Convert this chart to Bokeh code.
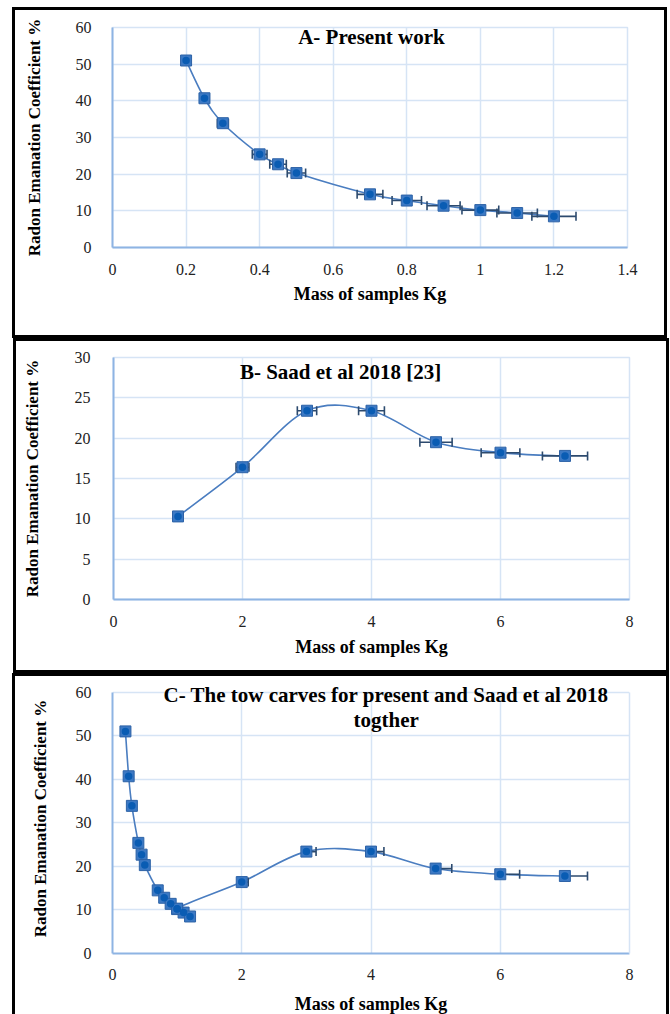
from bokeh.plotting import figure
from bokeh.layouts import column
from bokeh.models import FixedTicker, Label, LinearAxis, BoxAnnotation
from bokeh.embed import file_html
from bokeh.resources import INLINE
import math

# ---------------- data ----------------
mass_present = [0.2, 0.25, 0.3, 0.4, 0.45, 0.5, 0.7, 0.8, 0.9, 1.0, 1.1, 1.2]
rec_present = [51.0, 40.7, 33.9, 25.4, 22.7, 20.3, 14.5, 12.8, 11.4, 10.2, 9.4, 8.5]
xerr_present = [0.01, 0.0125, 0.015, 0.02, 0.0225, 0.025, 0.035, 0.04, 0.045, 0.05, 0.055, 0.06]

mass_saad = [1, 2, 3, 4, 5, 6, 7]
rec_saad = [10.3, 16.4, 23.4, 23.4, 19.5, 18.2, 17.8]
xerr_saad = [0.05, 0.1, 0.15, 0.2, 0.25, 0.3, 0.35]

xticks_a = [0, 0.2, 0.4, 0.6, 0.8, 1.0, 1.2, 1.4]
xlabels_a = ["0", "0.2", "0.4", "0.6", "0.8", "1", "1.2", "1.4"]
yticks_a = [0, 10, 20, 30, 40, 50, 60]
xticks_b = [0, 2, 4, 6, 8]
yticks_b = [0, 5, 10, 15, 20, 25, 30]

title_a = "A- Present work"
title_b = "B- Saad et al 2018 [23]"
title_c1 = "C- The tow carves for present and Saad et al 2018"
title_c2 = "togther"
xtitle = "Mass of samples Kg"
ytitle = "Radon Emanation Coefficient %"

SERIF = "Liberation Serif"
LINE = "#4A7DC0"
GRID = "#D6E4F5"
AXIS = "#8EB4E3"
ERR = "#2C4A6E"


def smooth_segments(xs, ys):
    n = len(xs)
    out = {k: [] for k in ("x0", "y0", "x1", "y1", "cx0", "cy0", "cx1", "cy1")}
    for i in range(n - 1):
        im = i - 1 if i > 0 else i
        ip = i + 2 if i + 2 < n else i + 1
        out["x0"].append(xs[i]); out["y0"].append(ys[i])
        out["x1"].append(xs[i + 1]); out["y1"].append(ys[i + 1])
        out["cx0"].append(xs[i] + (xs[i + 1] - xs[im]) / 6.0)
        out["cy0"].append(ys[i] + (ys[i + 1] - ys[im]) / 6.0)
        out["cx1"].append(xs[i + 1] - (xs[ip] - xs[i]) / 6.0)
        out["cy1"].append(ys[i + 1] - (ys[ip] - ys[i]) / 6.0)
    return out


def make_panel(width, height, borders, xr, yr, xt, yt, xlab_over, styles, margin,
               y_std, y_lab_std, x_std, x_lab_std):
    left, right, top, bottom = borders
    p = figure(width=width, height=height, x_range=xr, y_range=yr,
               output_backend="svg", toolbar_location=None,
               min_border_left=left, min_border_right=right,
               min_border_top=top, min_border_bottom=bottom,
               styles=styles, margin=margin)
    p.background_fill_color = "white"
    p.border_fill_color = "white"
    p.outline_line_color = GRID
    p.outline_line_width = 1.5
    p.xaxis.ticker = FixedTicker(ticks=xt)
    p.yaxis.ticker = FixedTicker(ticks=yt)
    if xlab_over:
        p.xaxis.major_label_overrides = xlab_over
    for ax in (p.xaxis, p.yaxis):
        ax.axis_line_color = AXIS
        ax.axis_line_width = 2
        ax.major_tick_line_color = None
        ax.minor_tick_line_color = None
        ax.major_label_text_font = SERIF
        ax.major_label_text_font_size = "16px"
        ax.major_label_text_color = "#222222"
        ax.axis_label_text_font = SERIF
        ax.axis_label_text_font_style = "bold"
        ax.axis_label_text_color = "black"
    p.xaxis.axis_label = xtitle
    p.yaxis.axis_label = ytitle
    p.xaxis.axis_label_text_font_size = "18px"
    p.yaxis.axis_label_text_font_size = "17px"
    p.yaxis.major_label_standoff = y_std
    p.yaxis.axis_label_standoff = y_lab_std
    p.xaxis.major_label_standoff = x_std
    p.xaxis.axis_label_standoff = x_lab_std
    p.grid.grid_line_color = GRID
    p.grid.grid_line_width = 1.5
    return p


def draw_series(p, xs, ys, lo, hi, both):
    seg = smooth_segments(xs, ys)
    p.bezier(x0=seg["x0"], y0=seg["y0"], x1=seg["x1"], y1=seg["y1"],
             cx0=seg["cx0"], cy0=seg["cy0"], cx1=seg["cx1"], cy1=seg["cy1"],
             line_color=LINE, line_width=1.6)
    p.segment(x0=lo, y0=ys, x1=hi, y1=ys, line_color=ERR, line_width=1.6)
    p.scatter(hi, ys, marker="dash", angle=math.pi / 2, size=9,
              line_color=ERR, line_width=1.6)
    if both:
        p.scatter(lo, ys, marker="dash", angle=math.pi / 2, size=9,
                  line_color=ERR, line_width=1.6)
    p.scatter(xs, ys, marker="square", size=11, fill_color="#3C79C4",
              line_color="#2D62A6", line_width=1)
    p.scatter(xs, ys, marker="circle", size=7.5, fill_color="#0A5CB3",
              line_color=None)


def add_title(p, x, y, text):
    p.add_layout(Label(x=x, y=y, text=text, text_align="center",
                       text_baseline="middle", text_font=SERIF,
                       text_font_style="bold", text_font_size="21px",
                       text_color="black"))


BOX = {"border": "3px solid black", "box-sizing": "content-box"}

# ---------------- panel A ----------------
pa = make_panel(649, 325, (97, 43, 17, 94), (0, 1.4), (0, 60), xticks_a, yticks_a,
                dict(zip(xticks_a, xlabels_a)), BOX, (7, 0, 0, 12), 15, 29, 10, 6)
lo_a = [m - e for m, e in zip(mass_present, xerr_present)]
hi_a = [m + e for m, e in zip(mass_present, xerr_present)]
draw_series(pa, mass_present, rec_present, lo_a, hi_a, True)
add_title(pa, 0.704, 57.5, title_a)

# ---------------- panel B ----------------
pb = make_panel(650, 329, (88, 40, 16, 77), (0, 8), (0, 30), xticks_b, yticks_b,
                None, BOX, (0, 0, 0, 13), 17, 30, 10, 7)
lo_b = [m - e for m, e in zip(mass_saad, xerr_saad)]
hi_b = [m + e for m, e in zip(mass_saad, xerr_saad)]
draw_series(pb, mass_saad, rec_saad, lo_b, hi_b, True)
add_title(pb, 3.52, 28.26, title_b)

# ---------------- panel C ----------------
mass_all = mass_present + mass_saad
rec_all = rec_present + rec_saad
xerr_all = xerr_present + xerr_saad
BOX_C = dict(BOX)
BOX_C["border-bottom"] = "none"
pc = make_panel(651, 338, (90, 38, 7, 64), (0, 8), (0, 62), xticks_b, yticks_a,
                None, BOX_C, (0, 0, 0, 12), 15, 23, 9, 11)
# the frame is a little taller than the 0-60 axis so that the two-line title fits
pc.outline_line_color = None
pc.yaxis.bounds = (0, 60)
if "cross_bounds" in pc.xgrid[0].properties():
    pc.xgrid.cross_bounds = (0, 60)
else:
    pc.add_layout(BoxAnnotation(bottom=60, fill_color="white", fill_alpha=1,
                                line_color=None, level="underlay"))
right_edge = LinearAxis(ticker=FixedTicker(ticks=[]), bounds=(0, 60),
                        axis_line_color=GRID, axis_line_width=1.5,
                        major_tick_line_color=None, minor_tick_line_color=None,
                        major_label_text_font_size="0px")
pc.add_layout(right_edge, "right")
hi_c = [m + e for m, e in zip(mass_all, xerr_all)]
draw_series(pc, mass_all, rec_all, mass_all, hi_c, False)
add_title(pc, 4.234, 59.3, title_c1)
add_title(pc, 4.234, 53.6, title_c2)

layout = column(pa, pb, pc, spacing=0)
open("out.html", "w").write(file_html(layout, INLINE))
